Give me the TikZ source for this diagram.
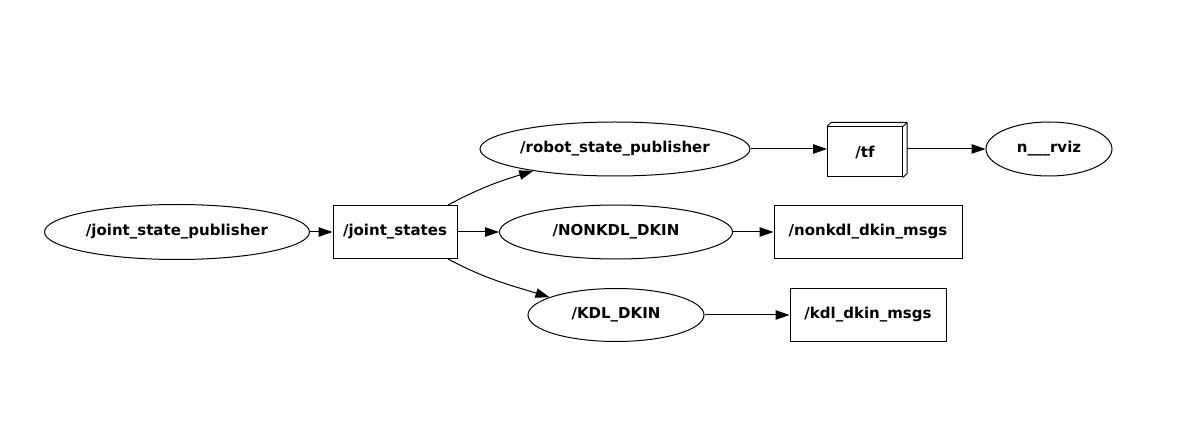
\documentclass[tikz,border=0pt]{standalone}
\usepackage{fontspec}
\setmainfont{DejaVu Sans}
\usepackage{tikz}
\usetikzlibrary{shapes,arrows.meta,positioning,calc}

\tikzset{
  rosnode/.style={ellipse, draw, line width=1pt, inner sep=0pt, font=\fontsize{15}{17}\selectfont\bfseries},
  topic/.style={rectangle, draw, line width=1pt, inner sep=0pt, font=\fontsize{15}{17}\selectfont\bfseries},
}

\begin{document}
\begin{tikzpicture}[x=1pt, y=1pt, ->, >={Triangle[length=14pt,width=9.5pt]}, line width=1pt]
        \useasboundingbox (0,0) rectangle (1187,437);

        \node[rosnode, minimum width=265, minimum height=55] (jsp) at (177,205) {/joint\_state\_publisher};
        \node[topic, minimum width=124, minimum height=53] (js) at (395,205) {/joint\_states};
        \node[rosnode, minimum width=270, minimum height=54] (rsp) at (615,288) {/robot\_state\_publisher};
        \node[rosnode, minimum width=233, minimum height=54] (nonkdl) at (616,205) {/NONKDL\_DKIN};
        \node[rosnode, minimum width=176, minimum height=53] (kdl) at (616,122) {/KDL\_DKIN};
        \node[topic, minimum width=75, minimum height=50] (tf) at (865,285) {/tf};
        \node[rosnode, minimum width=126, minimum height=54] (rviz) at (1049,288) {n\_\_\_rviz};
        \node[topic, minimum width=188, minimum height=53] (nonkdlmsgs) at (868,205) {/nonkdl\_dkin\_msgs};
        \node[topic, minimum width=156, minimum height=52] (kdlmsgs) at (868,122) {/kdl\_dkin\_msgs};

        % depth of the /tf box
        \draw[-] (tf.north west) -- ++(4,4) -- ($(tf.north east)+(4,4)$) -- ($(tf.south east)+(4,4)$) -- (tf.south east)
                 (tf.north east) -- ++(4,4);
        \coordinate (tfback) at ($(tf.east)+(4,3)$);

        \path (jsp) edge (js)
        (js.27) edge [out=28, in=197] (rsp.195)
        (js) edge (nonkdl)
        (js.-27) edge [out=-28, in=163] (kdl.165)
        (rsp.east) edge (tf.west |- rsp.east)
        (tfback) edge (rviz.west |- tfback)
        (nonkdl) edge (nonkdlmsgs)
        (kdl) edge (kdlmsgs);
\end{tikzpicture}
\end{document}
